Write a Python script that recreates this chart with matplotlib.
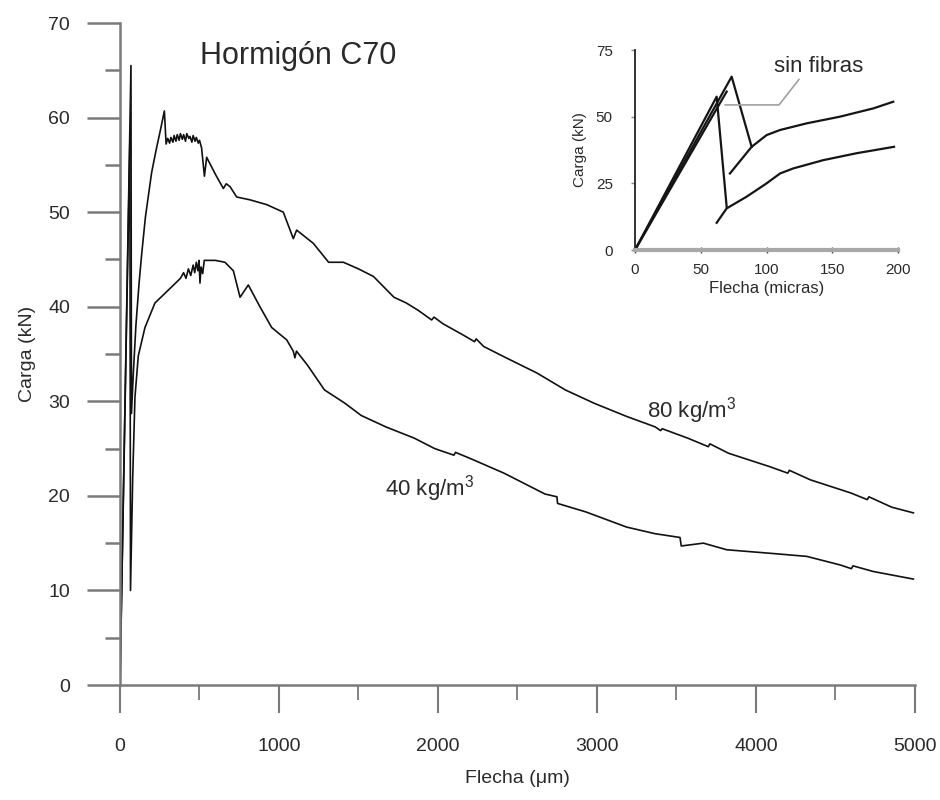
import numpy as np
import matplotlib
matplotlib.use("Agg")
import matplotlib.pyplot as plt
from matplotlib.ticker import MultipleLocator

plt.rcParams['font.family'] = ['Liberation Sans', 'DejaVu Sans']
plt.rcParams['mathtext.default'] = 'regular'

# main chart: load (kN) vs deflection (um)
x_80 = [0, 69, 72, 84, 100, 120, 136, 160, 199, 230, 252, 279, 290, 300, 312, 320, 333, 340,
        352, 360, 372, 380, 392, 400, 412, 420, 433, 440, 452, 460, 472, 480, 492, 500, 513,
        531, 545, 600, 650, 668, 692, 734, 818, 922, 1027, 1090, 1111, 1216, 1312, 1405,
        1500, 1594, 1723, 1800, 1877, 1960, 1975, 2031, 2159, 2230, 2240, 2287, 2416, 2621,
        2801, 2981, 3186, 3365, 3400, 3410, 3571, 3700, 3710, 3828, 4084, 4200, 4210, 4341,
        4597, 4700, 4710, 4854, 4990]
y_80 = [0, 65.5, 28.7, 33.0, 38.0, 42.5, 45.5, 49.5, 54.2, 56.8, 58.5, 60.7, 57.2, 57.8, 57.3,
        57.9, 57.4, 58.1, 57.5, 58.2, 57.6, 58.3, 57.7, 58.2, 57.5, 58.3, 57.8, 58.0, 57.4,
        58.1, 57.5, 57.9, 57.3, 57.6, 56.8, 53.8, 55.8, 54.0, 52.5, 53.0, 52.7, 51.6, 51.3,
        50.8, 50.0, 47.2, 48.1, 46.7, 44.7, 44.7, 44.0, 43.2, 41.0, 40.4, 39.6, 38.6, 38.9,
        38.2, 37.0, 36.3, 36.6, 35.8, 34.7, 33.0, 31.2, 29.8, 28.4, 27.3, 26.9, 27.1, 26.1,
        25.2, 25.5, 24.5, 23.1, 22.4, 22.7, 21.7, 20.3, 19.6, 19.9, 18.8, 18.2]

x_40 = [0, 62, 66, 80, 94, 115, 157, 220, 325, 380, 400, 415, 430, 445, 460, 470, 480, 490,
        497, 503, 510, 520, 530, 556, 600, 660, 713, 755, 807, 880, 954, 1048, 1090, 1100,
        1110, 1180, 1286, 1414, 1517, 1671, 1851, 1979, 2100, 2110, 2210, 2415, 2672, 2748,
        2752, 2930, 3186, 3365, 3522, 3530, 3669, 3816, 4109, 4319, 4528, 4600, 4610, 4738,
        4990]
y_40 = [0, 57.5, 10.0, 22.0, 30.4, 34.8, 37.8, 40.4, 42.1, 43.0, 43.6, 43.0, 44.0, 43.3, 44.4,
        43.6, 44.7, 43.8, 44.9, 42.5, 44.2, 43.5, 44.9, 44.9, 44.9, 44.7, 43.8, 41.0, 42.3,
        40.0, 37.8, 36.5, 35.3, 34.6, 35.3, 33.8, 31.2, 29.8, 28.5, 27.3, 26.1, 25.0, 24.3,
        24.6, 23.9, 22.4, 20.2, 19.9, 19.2, 18.3, 16.7, 16.0, 15.6, 14.7, 15.0, 14.3, 13.9,
        13.6, 12.7, 12.3, 12.6, 12.0, 11.2]

# inset: first 200 um
ins_80_x = [0, 73.5, 88.7]
ins_80_y = [0, 65.0, 38.7]
ins_80_post_x = [72.2, 88.7, 100.1, 110.3, 130.6, 155.9, 181.2, 196.4]
ins_80_post_y = [28.7, 38.7, 43.1, 45.0, 47.5, 50.0, 53.1, 55.6]
ins_40_x = [0, 62.1, 69.7]
ins_40_y = [0, 57.5, 16.2]
ins_40_post_x = [62.1, 69.7, 84.9, 100.1, 110.3, 120.4, 143.2, 168.6, 197.0]
ins_40_post_y = [10.2, 15.6, 20.0, 25.0, 28.7, 30.6, 33.7, 36.3, 38.7]
ins_sf_x = [0, 69.7]
ins_sf_y = [0, 59.4]

axis_col = '#7a7a7a'
text_col = '#2a2a2a'

fig = plt.figure(figsize=(9.4, 8), dpi=100)
ax = fig.add_axes([120 / 940, 115 / 800, 795 / 940, 662 / 800])
ax.plot(x_80, y_80, color='#111111', lw=1.2)
ax.plot(x_40, y_40, color='#111111', lw=1.2)
ax.set_xlim(0, 5000)
ax.set_ylim(0, 70)
for s in ['top', 'right']:
    ax.spines[s].set_visible(False)
for s in ['left', 'bottom']:
    ax.spines[s].set_color(axis_col)
    ax.spines[s].set_linewidth(1.8)
ax.xaxis.set_major_locator(MultipleLocator(1000))
ax.xaxis.set_minor_locator(MultipleLocator(500))
ax.yaxis.set_major_locator(MultipleLocator(10))
ax.yaxis.set_minor_locator(MultipleLocator(5))
ax.tick_params(axis='x', which='major', direction='out', length=20, width=1.5,
               color=axis_col, pad=18, labelsize=14, labelcolor=text_col)
ax.tick_params(axis='x', which='minor', direction='out', length=11, width=1.3, color=axis_col)
ax.tick_params(axis='y', which='major', direction='out', length=24, width=1.8,
               color=axis_col, pad=12, labelsize=14, labelcolor=text_col)
ax.tick_params(axis='y', which='minor', direction='out', length=11, width=1.8, color=axis_col)
ax.set_xlabel('Flecha (μm)', fontsize=14, color=text_col, labelpad=11)
ax.set_ylabel('Carga (kN)', fontsize=14, color=text_col, labelpad=9)
ax.text(0.2245, 0.95, 'Hormigón C70', transform=ax.transAxes, ha='center', va='center',
        fontsize=22, color=text_col)
ax.text(3598, 29.0, '80 kg/m$^3$', ha='center', va='center', fontsize=16, color=text_col)
ax.text(1950, 20.8, '40 kg/m$^3$', ha='center', va='center', fontsize=16, color=text_col)

# inset
ai = fig.add_axes([635 / 940, 550 / 800, 263 / 940, 200 / 800])
for xs, ys in [(ins_80_x, ins_80_y), (ins_80_post_x, ins_80_post_y),
               (ins_40_x, ins_40_y), (ins_40_post_x, ins_40_post_y), (ins_sf_x, ins_sf_y)]:
    ai.plot(xs, ys, color='#151515', lw=1.6)
ai.set_xlim(0, 200)
ai.set_ylim(0, 75)
ai.patch.set_alpha(0)
for s in ['top', 'right']:
    ai.spines[s].set_visible(False)
ai.spines['left'].set_color('#222222')
ai.spines['left'].set_linewidth(1.3)
ai.spines['bottom'].set_color('#a8a8a8')
ai.spines['bottom'].set_linewidth(3)
ai.set_xticks([0, 50, 100, 150, 200])
ai.set_yticks([0, 25, 50, 75])
ai.tick_params(axis='x', direction='inout', length=5, width=1, color='#444444', pad=7,
               labelsize=11, labelcolor=text_col)
ai.tick_params(axis='y', direction='out', length=3, width=1, color='#888888', pad=13,
               labelsize=11, labelcolor=text_col)
ai.set_xlabel('Flecha (micras)', fontsize=12, color=text_col, labelpad=3)
ai.set_ylabel('Carga (kN)', fontsize=11, color=text_col, labelpad=6)
ai.annotate('sin fibras', xy=(68.4, 54.4), xytext=(140, 69), textcoords='data',
            ha='center', va='center', fontsize=16, color=text_col,
            arrowprops=dict(arrowstyle='-', color='#a0a0a0', lw=1.2, relpos=(0.3, 0.0),
                            shrinkA=0, shrinkB=0,
                            connectionstyle='angle,angleA=52,angleB=0,rad=0'))

fig.savefig('out.png', dpi=100)
